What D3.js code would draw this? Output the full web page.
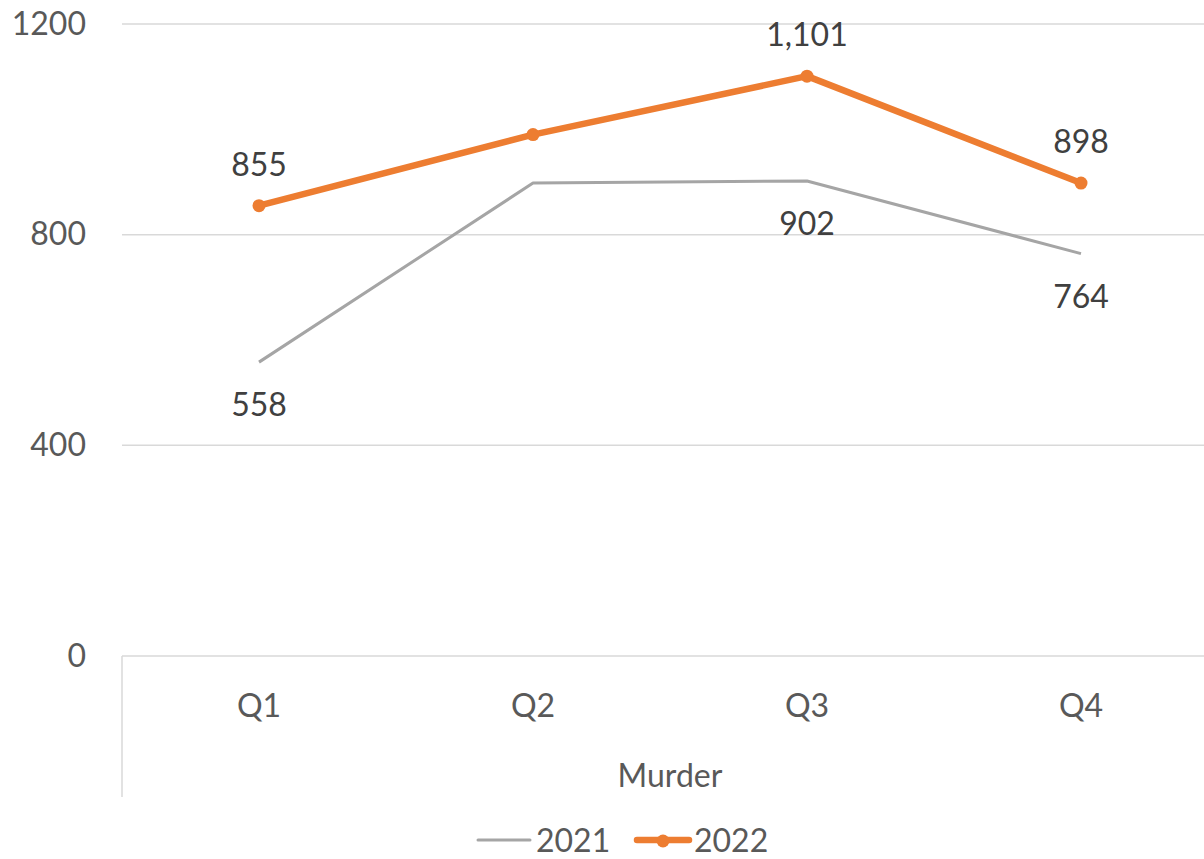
<!DOCTYPE html>
<html>
  <head>
    <script src="https://d3js.org/d3.v7.min.js"></script>
    <style>
      body { margin: 0; background: #fff; }
      text { font-family: Lato, "Open Sans", sans-serif; }
    </style>
  </head>
  <body>
    <svg id="chart" width="1204" height="859"></svg>
    <script>
      // Chart data
      var quarters = ["Q1", "Q2", "Q3", "Q4"];
      var values2021 = [558, 898, 902, 764];
      var values2022 = [855, 990, 1101, 898];
      // which points carry a data label (Q2 has none in the original)
      var showLabel = [true, false, true, true];
      var yTicks = [0, 400, 800, 1200];
      var groupLabel = "Murder";

      var svg = d3.select("#chart");
      var plotLeft = 122, plotRight = 1218, plotTop = 24, plotBottom = 656;

      var x = d3.scaleBand().domain(quarters).range([plotLeft, plotRight]);
      var y = d3.scaleLinear().domain([0, 1200]).range([plotBottom, plotTop]);
      function cx(i) { return x(quarters[i]) + x.bandwidth() / 2; }

      // gridlines
      svg.append("g").selectAll("line")
        .data(yTicks)
        .enter().append("line")
        .attr("x1", plotLeft).attr("x2", 1204)
        .attr("y1", function(d) { return y(d); })
        .attr("y2", function(d) { return y(d); })
        .attr("stroke", "#d9d9d9").attr("stroke-width", 1.5);

      // y axis labels (no thousands separator, like the original)
      var yAxis = svg.append("g")
        .attr("transform", "translate(" + (plotLeft - 36) + ",0)")
        .call(d3.axisLeft(y).tickValues(yTicks).tickFormat(d3.format("d"))
          .tickSize(0).tickPadding(0));
      yAxis.select(".domain").remove();
      yAxis.selectAll("text")
        .attr("fill", "#595959").style("font-size", "32px")
        .style("font-family", "Lato, 'Open Sans', sans-serif");

      // category axis
      var xAxis = svg.append("g")
        .attr("transform", "translate(0," + plotBottom + ")")
        .call(d3.axisBottom(x).tickSize(0).tickPadding(38));
      xAxis.select(".domain").remove();
      xAxis.selectAll("text")
        .attr("fill", "#595959").style("font-size", "32px")
        .style("font-family", "Lato, 'Open Sans', sans-serif");

      // vertical separator of the multi-level category axis
      svg.append("line")
        .attr("x1", plotLeft).attr("x2", plotLeft)
        .attr("y1", plotBottom).attr("y2", 797)
        .attr("stroke", "#d9d9d9").attr("stroke-width", 1.5);

      svg.append("text")
        .attr("x", (plotLeft + plotRight) / 2).attr("y", 787)
        .attr("text-anchor", "middle")
        .attr("fill", "#595959").style("font-size", "32px")
        .text(groupLabel);

      var line = d3.line()
        .x(function(d, i) { return cx(i); })
        .y(function(d) { return y(d); });

      // 2021 series
      svg.append("path")
        .datum(values2021)
        .attr("d", line)
        .attr("fill", "none")
        .attr("stroke", "#a5a5a5").attr("stroke-width", 3)
        .attr("stroke-linejoin", "round");

      // 2022 series
      svg.append("path")
        .datum(values2022)
        .attr("d", line)
        .attr("fill", "none")
        .attr("stroke", "#ed7d31").attr("stroke-width", 6.5)
        .attr("stroke-linejoin", "round");

      svg.append("g").selectAll("circle")
        .data(values2022)
        .enter().append("circle")
        .attr("cx", function(d, i) { return cx(i); })
        .attr("cy", function(d) { return y(d); })
        .attr("r", 6.5)
        .attr("fill", "#ed7d31");

      var fmt = d3.format(",");

      // data labels: 2022 above, 2021 below
      var labels2022 = values2022.map(function(v, i) { return {v: v, i: i}; })
        .filter(function(d) { return showLabel[d.i]; });
      var labels2021 = values2021.map(function(v, i) { return {v: v, i: i}; })
        .filter(function(d) { return showLabel[d.i]; });

      svg.append("g").selectAll("text")
        .data(labels2022)
        .enter().append("text")
        .attr("x", function(d) { return cx(d.i); })
        .attr("y", function(d) { return y(d.v) - 30; })
        .attr("text-anchor", "middle")
        .attr("fill", "#404040").style("font-size", "32px")
        .text(function(d) { return fmt(d.v); });

      svg.append("g").selectAll("text")
        .data(labels2021)
        .enter().append("text")
        .attr("x", function(d) { return cx(d.i); })
        .attr("y", function(d) { return y(d.v) + 54; })
        .attr("text-anchor", "middle")
        .attr("fill", "#404040").style("font-size", "32px")
        .text(function(d) { return fmt(d.v); });

      // legend
      var legend = svg.append("g");
      legend.append("line")
        .attr("x1", 478).attr("x2", 530).attr("y1", 840).attr("y2", 840)
        .attr("stroke", "#a5a5a5").attr("stroke-width", 3).attr("stroke-linecap", "round");
      legend.append("text")
        .attr("x", 536).attr("y", 852)
        .attr("fill", "#595959").style("font-size", "32px")
        .text("2021");
      legend.append("line")
        .attr("x1", 637).attr("x2", 689).attr("y1", 840).attr("y2", 840)
        .attr("stroke", "#ed7d31").attr("stroke-width", 6.5).attr("stroke-linecap", "round");
      legend.append("circle")
        .attr("cx", 663).attr("cy", 841).attr("r", 6.5)
        .attr("fill", "#ed7d31");
      legend.append("text")
        .attr("x", 694).attr("y", 852)
        .attr("fill", "#595959").style("font-size", "32px")
        .text("2022");
    </script>
  </body>
</html>
